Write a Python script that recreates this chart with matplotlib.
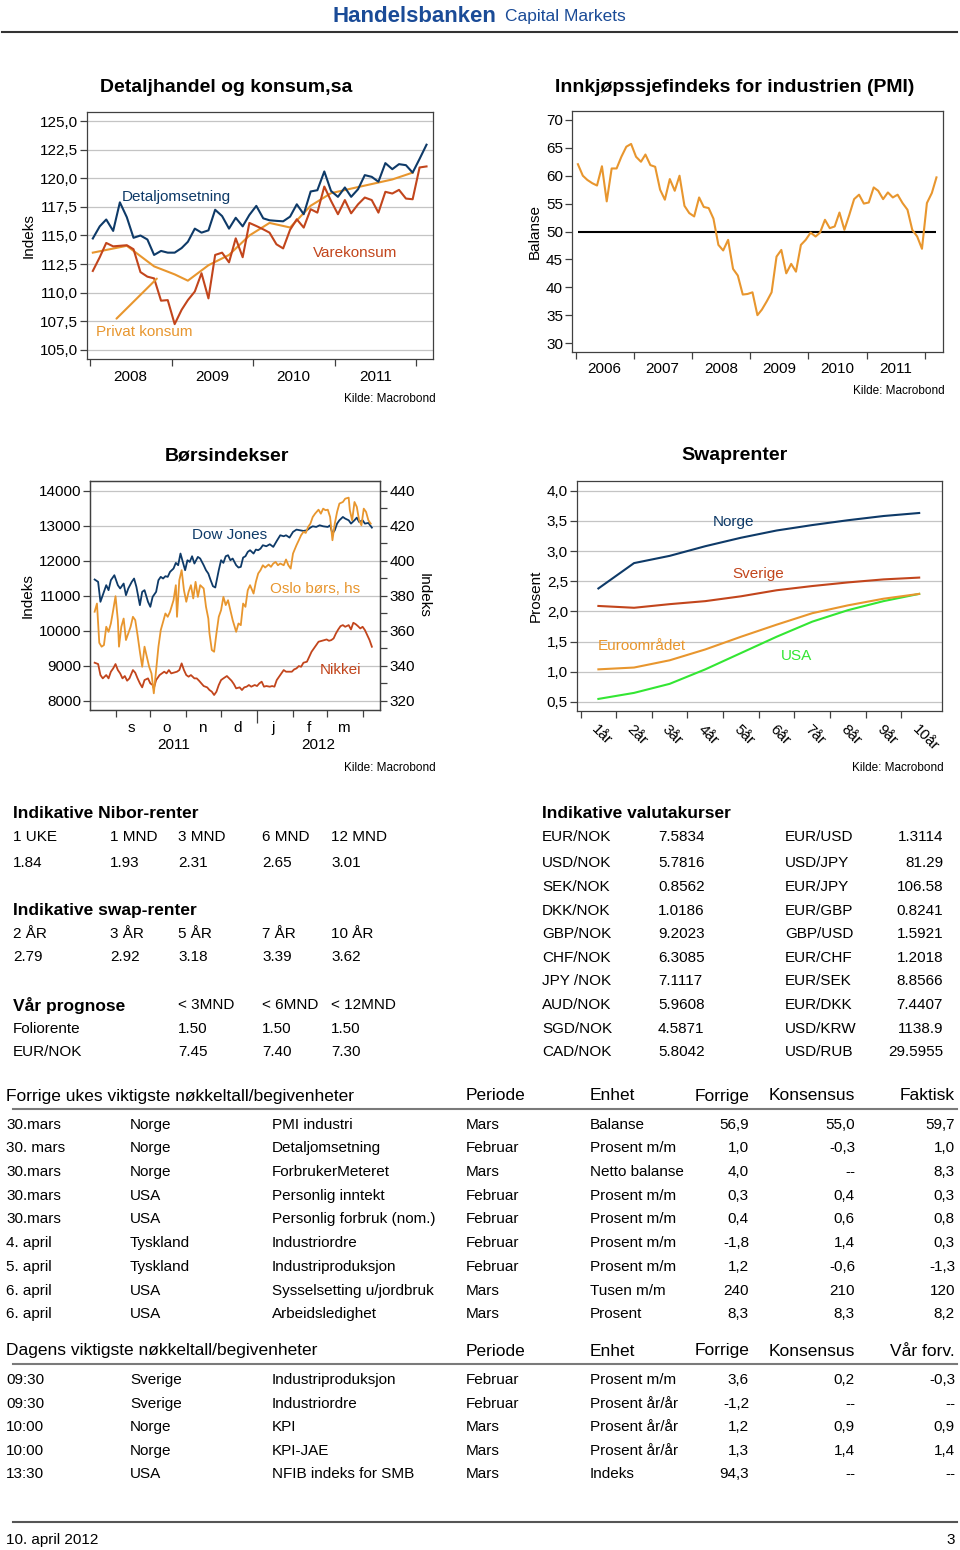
import numpy as np
import pandas as pd
import matplotlib
matplotlib.use('Agg')
import matplotlib.pyplot as plt
from matplotlib.lines import Line2D
from matplotlib.ticker import FuncFormatter

plt.rcParams['font.family'] = ['Liberation Sans', 'DejaVu Sans']

# ---------------- DATA ----------------
# Chart 1: Detaljhandel og konsum (monthly Jan 2008 - Feb 2012)
detalj = [114.74, 115.8, 116.4, 115.4, 117.9, 116.6, 114.8, 115.0, 114.65, 113.3,
          113.65, 113.5, 113.5, 113.9, 114.45, 115.6, 115.25, 115.45, 117.25, 116.7,
          115.6, 116.55, 115.8, 116.8, 117.59, 116.5, 116.33, 116.28, 116.24, 116.65,
          117.73, 116.86, 118.85, 118.96, 120.6, 118.9, 118.38, 119.2, 118.38, 119.05,
          120.28, 120.13, 119.7, 121.33, 120.8, 121.24, 121.15, 120.5, 121.7, 122.94]
vare = [111.9, 113.1, 114.35, 114.05, 114.1, 114.15, 113.8, 111.8, 111.4, 111.25,
        109.3, 109.35, 107.25, 108.5, 109.35, 110.1, 111.7, 109.5, 113.3, 113.5,
        112.65, 114.75, 113.1, 116.1, 115.83, 115.54, 115.25, 114.23, 113.87, 115.5,
        116.42, 115.69, 117.3, 117.0, 119.28, 118.03, 116.86, 118.1, 116.94, 117.73,
        118.32, 118.1, 117.0, 118.82, 118.67, 118.99, 118.23, 118.17, 120.95, 121.04]
privat_month = [0, 5, 9, 12, 14, 17, 20, 23, 26, 29, 32, 35, 38, 41, 44, 47]
privat = [113.5, 114.1, 112.3, 111.6, 111.05, 112.4, 113.3, 115.0, 116.1, 115.7,
          117.6, 118.7, 119.1, 119.5, 119.9, 120.5]

# Chart 2: PMI (monthly Jan 2006 - Mar 2012)
pmi = [62.06, 60.0, 59.25, 58.66, 58.24, 61.7, 55.4, 61.3, 61.3, 63.4,
       65.2, 65.7, 63.4, 62.5, 63.8, 61.9, 61.6, 57.5, 55.7, 59.4,
       57.3, 60.0, 54.6, 53.3, 52.7, 56.1, 54.4, 54.2, 52.3, 47.6,
       46.6, 48.5, 43.3, 42.1, 38.7, 38.8, 39.1, 35.0, 36.0, 37.5,
       39.1, 45.5, 46.7, 42.5, 44.2, 42.8, 47.6, 48.5, 49.8, 49.1,
       49.8, 52.1, 50.6, 50.9, 53.4, 50.3, 53.0, 55.8, 56.6, 55.0,
       55.2, 57.9, 57.3, 55.8, 57.0, 56.1, 56.6, 55.1, 53.9, 50.3,
       49.1, 46.9, 55.1, 56.9, 59.7]
pmi_threshold = 50

# Chart 3: Børsindekser (days after 2011-08-01)
dow_day = [13, 16, 18, 20, 23, 25, 27, 30, 33, 35,
           38, 40, 42, 45, 47, 49, 52, 54, 56, 59,
           61, 63, 66, 68, 70, 72, 74, 76, 78, 81,
           83, 85, 87, 89, 91, 93, 95, 97, 99, 102,
           104, 107, 109, 111, 113, 115, 117, 120, 122, 124,
           126, 128, 130, 132, 135, 137, 139, 141, 143, 145,
           147, 150, 152, 154, 156, 158, 161, 164, 167, 170,
           173, 176, 178, 181, 184, 187, 190, 193, 196, 199,
           201, 204, 207, 210, 214, 216, 218, 220, 222, 224,
           227, 229, 232, 234, 237, 239, 241, 244, 246, 249,
           252]
dow = [11467, 11400, 10829, 11019, 11305, 11162, 11448, 11590, 11305, 11210,
       11352, 11019, 11210, 11400, 11495, 11257, 10733, 11114, 11162, 10829,
       10686, 10971, 11114, 11448, 11543, 11495, 11562, 11543, 11686, 11781,
       11943, 11876, 12210, 11971, 11733, 12019, 11971, 12133, 11924, 12114,
       12067, 11876, 11733, 11638, 11448, 11276, 11238, 11733, 12019, 11943,
       12133, 12162, 12019, 12067, 11876, 11810, 11829, 12095, 12133, 12257,
       12305, 12210, 12324, 12305, 12352, 12448, 12419, 12476, 12400, 12571,
       12733, 12705, 12733, 12667, 12829, 12895, 12876, 12857, 12876, 12952,
       12990, 12971, 13019, 12990, 12971, 13019, 12781, 12876, 13067, 13162,
       13257, 13210, 13162, 13067, 13162, 13238, 13114, 13162, 13067, 13086,
       12952]
oslo_day = [13, 15, 17, 19, 21, 23, 25, 27, 29, 31,
            33, 34, 36, 38, 40, 42, 44, 46, 48, 50,
            52, 54, 56, 58, 60, 62, 64, 66, 68, 70,
            72, 74, 76, 78, 81, 83, 84, 86, 88, 90,
            92, 94, 96, 98, 100, 102, 104, 107, 109, 111,
            112, 114, 116, 118, 120, 122, 124, 126, 128, 130,
            132, 135, 137, 139, 141, 143, 145, 147, 150, 152,
            154, 156, 158, 160, 163, 165, 167, 169, 171, 173,
            176, 178, 180, 182, 184, 187, 189, 191, 193, 195,
            197, 199, 201, 203, 206, 208, 210, 212, 214, 216,
            218, 220, 222, 224, 227, 229, 232, 233, 235, 237,
            239, 241, 243, 245, 247, 249, 251]
oslo = [370.9, 375.6, 353.1, 350.9, 351.8, 362.3, 359.4, 364.2, 371.8, 379.8,
        366.1, 350.9, 362.3, 367.0, 354.7, 358.5, 362.3, 368.0, 366.1, 357.5,
        348.0, 339.4, 350.9, 345.1, 339.4, 335.6, 324.2, 337.5, 350.9, 360.4,
        365.1, 369.9, 368.0, 370.9, 377.5, 386.1, 368.0, 389.0, 394.7, 383.2,
        376.6, 382.3, 386.1, 378.5, 388.0, 379.4, 386.1, 384.2, 373.7, 367.0,
        358.5, 349.0, 348.0, 358.5, 368.0, 371.8, 379.4, 374.7, 377.5, 371.8,
        366.1, 359.4, 364.2, 363.2, 375.6, 373.7, 383.2, 386.1, 381.3, 388.0,
        392.8, 394.7, 397.5, 396.2, 397.9, 396.6, 398.5, 399.4, 397.5, 398.5,
        397.5, 400.8, 397.5, 395.6, 404.2, 409.0, 411.8, 414.7, 416.6, 416.0,
        419.4, 421.3, 425.1, 427.0, 429.3, 427.0, 429.9, 429.0, 429.3, 425.1,
        411.8, 421.3, 428.0, 432.8, 433.7, 435.6, 436.2, 429.0, 423.2, 433.7,
        430.9, 423.2, 420.4, 429.9, 428.0, 423.2, 421.3]
nikkei_day = [13, 16, 18, 20, 23, 25, 27, 29, 31, 33,
              35, 37, 39, 41, 43, 46, 48, 50, 52, 54,
              56, 59, 61, 63, 64, 66, 69, 71, 73, 75,
              77, 79, 81, 84, 86, 88, 90, 92, 94, 96,
              99, 101, 103, 105, 107, 110, 112, 114, 116, 118,
              120, 122, 124, 127, 129, 131, 133, 135, 138, 140,
              142, 144, 146, 148, 151, 153, 155, 157, 159, 161,
              164, 166, 168, 170, 172, 174, 176, 178, 181, 183,
              185, 187, 189, 191, 193, 196, 198, 200, 202, 204,
              206, 209, 211, 213, 215, 217, 219, 221, 223, 225,
              227, 229, 232, 234, 236, 238, 240, 242, 244, 246,
              248, 250, 252]
nikkei = [9086, 9048, 8733, 8638, 8733, 8638, 8829, 8924, 9048, 8876,
          8781, 8638, 8705, 8571, 8638, 8876, 8800, 8638, 8495, 8381,
          8590, 8638, 8495, 8448, 8352, 8590, 8733, 8781, 8829, 8781,
          8876, 8781, 8800, 8829, 8876, 9067, 8876, 8733, 8686, 8733,
          8638, 8638, 8571, 8495, 8419, 8381, 8305, 8257, 8162, 8257,
          8448, 8590, 8638, 8705, 8638, 8571, 8476, 8352, 8381, 8305,
          8381, 8400, 8448, 8400, 8448, 8419, 8495, 8543, 8400, 8419,
          8400, 8419, 8400, 8590, 8686, 8781, 8876, 8829, 8829, 8829,
          8895, 8924, 8990, 8971, 9086, 9114, 9257, 9400, 9495, 9590,
          9686, 9714, 9733, 9752, 9714, 9733, 9781, 9924, 10038, 10133,
          10162, 10114, 10162, 10038, 10229, 10190, 10133, 10067, 10114, 10019,
          9876, 9733, 9543]
month_letters = ['s', 'o', 'n', 'd', 'j', 'f', 'm']

# Chart 4: Swaprenter
swap_labels = ['1år', '2år', '3år', '4år', '5år', '6år', '7år', '8år', '9år', '10år']
swap_norge = [2.38, 2.80, 2.92, 3.08, 3.22, 3.34, 3.43, 3.51, 3.58, 3.63]
swap_sverige = [2.09, 2.06, 2.12, 2.17, 2.25, 2.35, 2.42, 2.48, 2.53, 2.56]
swap_euro = [1.04, 1.07, 1.19, 1.37, 1.58, 1.78, 1.97, 2.10, 2.21, 2.29]
swap_usa = [0.55, 0.65, 0.80, 1.04, 1.31, 1.58, 1.83, 2.02, 2.17, 2.29]

# Tables
nibor_head = ['1 UKE', '1 MND', '3 MND', '6 MND', '12 MND']
nibor_vals = ['1.84', '1.93', '2.31', '2.65', '3.01']
swap_head = ['2 ÅR', '3 ÅR', '5 ÅR', '7 ÅR', '10 ÅR']
swap_vals = ['2.79', '2.92', '3.18', '3.39', '3.62']
prog_head = ['< 3MND', '< 6MND', '< 12MND']
prog_folio = ['1.50', '1.50', '1.50']
prog_eurnok = ['7.45', '7.40', '7.30']
fx_left_names = ['EUR/NOK', 'USD/NOK', 'SEK/NOK', 'DKK/NOK', 'GBP/NOK', 'CHF/NOK',
                 'JPY /NOK', 'AUD/NOK', 'SGD/NOK', 'CAD/NOK']
fx_left_vals = ['7.5834', '5.7816', '0.8562', '1.0186', '9.2023', '6.3085',
                '7.1117', '5.9608', '4.5871', '5.8042']
fx_right_names = ['EUR/USD', 'USD/JPY', 'EUR/JPY', 'EUR/GBP', 'GBP/USD', 'EUR/CHF',
                  'EUR/SEK', 'EUR/DKK', 'USD/KRW', 'USD/RUB']
fx_right_vals = ['1.3114', '81.29', '106.58', '0.8241', '1.5921', '1.2018',
                 '8.8566', '7.4407', '1138.9', '29.5955']

prev_date = ['30.mars', '30. mars', '30.mars', '30.mars', '30.mars', '4. april',
             '5. april', '6. april', '6. april']
prev_country = ['Norge', 'Norge', 'Norge', 'USA', 'USA', 'Tyskland', 'Tyskland', 'USA', 'USA']
prev_event = ['PMI industri', 'Detaljomsetning', 'ForbrukerMeteret', 'Personlig inntekt',
              'Personlig forbruk (nom.)', 'Industriordre', 'Industriproduksjon',
              'Sysselsetting u/jordbruk', 'Arbeidsledighet']
prev_period = ['Mars', 'Februar', 'Mars', 'Februar', 'Februar', 'Februar', 'Februar', 'Mars', 'Mars']
prev_unit = ['Balanse', 'Prosent m/m', 'Netto balanse', 'Prosent m/m', 'Prosent m/m',
             'Prosent m/m', 'Prosent m/m', 'Tusen m/m', 'Prosent']
prev_forrige = ['56,9', '1,0', '4,0', '0,3', '0,4', '-1,8', '1,2', '240', '8,3']
prev_kons = ['55,0', '-0,3', '--', '0,4', '0,6', '1,4', '-0,6', '210', '8,3']
prev_faktisk = ['59,7', '1,0', '8,3', '0,3', '0,8', '0,3', '-1,3', '120', '8,2']

today_time = ['09:30', '09:30', '10:00', '10:00', '13:30']
today_country = ['Sverige', 'Sverige', 'Norge', 'Norge', 'USA']
today_event = ['Industriproduksjon', 'Industriordre', 'KPI', 'KPI-JAE', 'NFIB indeks for SMB']
today_period = ['Februar', 'Februar', 'Mars', 'Mars', 'Mars']
today_unit = ['Prosent m/m', 'Prosent år/år', 'Prosent år/år', 'Prosent år/år', 'Indeks']
today_forrige = ['3,6', '-1,2', '1,2', '1,3', '94,3']
today_kons = ['0,2', '--', '0,9', '1,4', '--']
today_var = ['-0,3', '--', '0,9', '1,4', '--']

# ---------------- STYLE ----------------
NAVY = '#0E3A68'
RED = '#C2451C'
ORANGE = '#E8962E'
GREEN = '#33E633'
BLUE = '#1A4B97'
GRID = '#C4C4C4'
SPINE = '#404040'

W, H = 960, 1550
fig = plt.figure(figsize=(W / 100, H / 100), dpi=100)


def fx(x):
    return x / W


def fy(y):
    return 1 - y / H


def ax_at(l, t, r, b):
    return fig.add_axes([fx(l), fy(b), (r - l) / W, (b - t) / H])


def T(x, y, s, **kw):
    kw.setdefault('va', 'center')
    kw.setdefault('fontsize', 11)
    fig.text(fx(x), fy(y), s, **kw)


def hline(y, x0, x1, color, lw):
    fig.add_artist(Line2D([fx(x0), fx(x1)], [fy(y), fy(y)], color=color, lw=lw,
                          transform=fig.transFigure))


def style(ax):
    for s in ax.spines.values():
        s.set_color(SPINE)
        s.set_linewidth(0.9)
    ax.tick_params(axis='both', which='both', direction='out', color=SPINE,
                   labelsize=11, width=0.9)
    ax.tick_params(axis='y', length=5, pad=1.5)


comma1 = FuncFormatter(lambda v, p: f'{v:.1f}'.replace('.', ','))

# ---------------- HEADER ----------------
T(333, 21.5, 'Handelsbanken', fontsize=16, fontweight='bold', color=BLUE, ha='left', va='baseline')
T(505, 21.5, 'Capital Markets', fontsize=12.5, color=BLUE, ha='left', va='baseline')
hline(32, 2, 957, '#333333', 1.5)

# ---------------- CHART 1 ----------------
ax1 = ax_at(87, 112, 433, 359)
style(ax1)
d1 = pd.date_range('2008-01-01', periods=len(detalj), freq='MS') + pd.Timedelta(days=14)
ax1.plot(d1[privat_month], privat, color=ORANGE, lw=1.5)
ax1.plot(d1, vare, color=RED, lw=1.5)
ax1.plot(d1, detalj, color=NAVY, lw=1.5)
ax1.annotate('', xy=(d1[0] + pd.Timedelta(days=295), 111.4),
             xytext=(d1[0] + pd.Timedelta(days=97), 107.56),
             arrowprops=dict(arrowstyle='-', color=ORANGE, lw=1.5))
ax1.set_ylim(104.2, 125.8)
ax1.set_yticks(np.arange(105, 125.01, 2.5))
ax1.yaxis.set_major_formatter(comma1)
ax1.yaxis.grid(True, color=GRID, lw=0.9)
ax1.set_axisbelow(True)
ax1.set_xlim(pd.Timestamp('2007-12-20'), pd.Timestamp('2012-03-15'))
ax1.set_xticks(pd.to_datetime([f'{y}-01-01' for y in range(2008, 2013)]))
ax1.set_xticklabels([])
ax1.set_xticks(pd.to_datetime([f'{y}-07-01' for y in range(2008, 2012)]),
               [str(y) for y in range(2008, 2012)], minor=True)
ax1.tick_params(axis='x', which='major', length=5)
ax1.tick_params(axis='x', which='minor', length=0, pad=8)
ax1.text(-0.17, 0.5, 'Indeks', rotation=90, ha='center', va='center', fontsize=11,
         transform=ax1.transAxes)
ax1.text(0.101, 0.656, 'Detaljomsetning', color=NAVY, fontsize=11, va='center',
         transform=ax1.transAxes)
ax1.text(0.653, 0.429, 'Varekonsum', color=RED, fontsize=11, va='center',
         transform=ax1.transAxes)
ax1.text(0.026, 0.109, 'Privat konsum', color=ORANGE, fontsize=11, va='center',
         transform=ax1.transAxes)
T(226.5, 87, 'Detaljhandel og konsum,sa', fontsize=14, fontweight='bold', ha='center')
T(436, 399, 'Kilde: Macrobond', fontsize=8.5, ha='right')

# ---------------- CHART 2 ----------------
ax2 = ax_at(572, 111, 943, 352)
style(ax2)
d2 = pd.date_range('2006-01-01', periods=len(pmi), freq='MS') + pd.Timedelta(days=14)
ax2.hlines(pmi_threshold, d2[0], d2[-1], color='black', lw=1.5)
ax2.plot(d2, pmi, color=ORANGE, lw=1.5)
ax2.set_ylim(28.4, 71.6)
ax2.set_yticks(np.arange(30, 71, 5))
ax2.set_xlim(pd.Timestamp('2005-12-09'), pd.Timestamp('2012-04-25'))
ax2.set_xticks(pd.to_datetime([f'{y}-01-01' for y in range(2006, 2013)]))
ax2.set_xticklabels([])
ax2.set_xticks(pd.to_datetime([f'{y}-07-01' for y in range(2006, 2012)]),
               [str(y) for y in range(2006, 2012)], minor=True)
ax2.tick_params(axis='x', which='major', length=5)
ax2.tick_params(axis='x', which='minor', length=0, pad=7)
ax2.text(-0.0997, 0.5, 'Balanse', rotation=90, ha='center', va='center', fontsize=11,
         transform=ax2.transAxes)
T(735, 87, 'Innkjøpssjefindeks for industrien (PMI)', fontsize=14, fontweight='bold', ha='center')
T(945, 391, 'Kilde: Macrobond', fontsize=8.5, ha='right')

# ---------------- CHART 3 ----------------
base = np.datetime64('2011-08-01')
ax3 = ax_at(90, 481, 380, 710)
style(ax3)
ax3r = ax3.twinx()
style(ax3r)
ax3.plot(base + np.array(nikkei_day).astype('timedelta64[D]'), nikkei, color=RED, lw=1.3)
ax3.plot(base + np.array(dow_day).astype('timedelta64[D]'), dow, color=NAVY, lw=1.3)
ax3r.plot(base + np.array(oslo_day).astype('timedelta64[D]'), oslo, color=ORANGE, lw=1.3)
ax3.set_ylim(7733, 14286)
ax3r.set_ylim(314.66, 445.72)
ax3.set_yticks(np.arange(8000, 14001, 1000))
ax3r.set_yticks(np.arange(320, 441, 20))
ax3r.set_yticks(np.arange(330, 441, 20), minor=True)
ax3r.tick_params(axis='y', which='both', length=5, pad=2)
ax3.yaxis.grid(True, color=GRID, lw=0.9)
ax3.set_axisbelow(True)
xl0, xl1 = pd.Timestamp('2011-08-10'), pd.Timestamp('2012-04-16')
ax3.set_xlim(xl0, xl1)
month_starts = pd.date_range('2011-09-01', '2012-04-01', freq='MS')
ax3.set_xticks(month_starts)
ax3.set_xticklabels([])
ax3.set_xticks(month_starts[:len(month_letters)] + pd.Timedelta(days=14), month_letters, minor=True)
ax3.tick_params(axis='x', which='major', length=5)
ax3.tick_params(axis='x', which='minor', length=0, pad=8)
for tk, ms in zip(ax3.xaxis.get_major_ticks(), month_starts):
    if ms.month == 1:
        tk.tick1line.set_markersize(9)
for yr in (2011, 2012):
    a = max(xl0, pd.Timestamp(f'{yr}-01-01'))
    b = min(xl1, pd.Timestamp(f'{yr + 1}-01-01'))
    ax3.text(a + (b - a) / 2, -0.153, str(yr), ha='center', va='center', fontsize=11,
             transform=ax3.get_xaxis_transform())
ax3.text(-0.214, 0.5, 'Indeks', rotation=90, ha='center', va='center', fontsize=11,
         transform=ax3.transAxes)
ax3.text(1.152, 0.5, 'Indeks', rotation=-90, ha='center', va='center', fontsize=11,
         transform=ax3.transAxes)
ax3.text(0.352, 0.764, 'Dow Jones', color=NAVY, fontsize=11, va='center', transform=ax3.transAxes)
ax3.text(0.621, 0.528, 'Oslo børs, hs', color=ORANGE, fontsize=11, va='center', transform=ax3.transAxes)
ax3.text(0.793, 0.175, 'Nikkei', color=RED, fontsize=11, va='center', transform=ax3.transAxes)
T(226.5, 456, 'Børsindekser', fontsize=14, fontweight='bold', ha='center')
T(436, 768, 'Kilde: Macrobond', fontsize=8.5, ha='right')

# ---------------- CHART 4 ----------------
ax4 = ax_at(577, 481, 942, 711)
style(ax4)
cats = np.arange(1, len(swap_labels) + 1)
ax4.plot(cats, swap_usa, color=GREEN, lw=1.5)
ax4.plot(cats, swap_euro, color=ORANGE, lw=1.5)
ax4.plot(cats, swap_sverige, color=RED, lw=1.5)
ax4.plot(cats, swap_norge, color=NAVY, lw=1.5)
ax4.set_ylim(0.35, 4.16)
ax4.set_yticks(np.arange(0.5, 4.01, 0.5))
ax4.yaxis.set_major_formatter(comma1)
ax4.yaxis.grid(True, color=GRID, lw=0.9)
ax4.set_axisbelow(True)
ax4.set_xlim(0.40, 10.64)
ax4.set_xticks(cats - 0.5)
ax4.set_xticklabels([])
ax4.set_xticks(cats, swap_labels, minor=True)
for lbl in ax4.get_xticklabels(minor=True):
    lbl.set(rotation=-45, ha='left', va='top', rotation_mode='anchor')
ax4.tick_params(axis='x', which='major', length=5)
ax4.tick_params(axis='x', which='minor', length=0, pad=8)
ax4.text(-0.114, 0.5, 'Prosent', rotation=90, ha='center', va='center', fontsize=11,
         transform=ax4.transAxes)
ax4.text(0.372, 0.823, 'Norge', color=NAVY, fontsize=11, va='center', transform=ax4.transAxes)
ax4.text(0.427, 0.596, 'Sverige', color=RED, fontsize=11, va='center', transform=ax4.transAxes)
ax4.text(0.056, 0.283, 'Euroområdet', color=ORANGE, fontsize=11, va='center', transform=ax4.transAxes)
ax4.text(0.558, 0.239, 'USA', color=GREEN, fontsize=11, va='center', transform=ax4.transAxes)
T(734, 456, 'Swaprenter', fontsize=14, fontweight='bold', ha='center')
T(944, 768, 'Kilde: Macrobond', fontsize=8.5, ha='right')

# ---------------- NIBOR / SWAP / PROGNOSE ----------------
cols5 = [13, 110, 178, 262, 331]
T(13, 814, 'Indikative Nibor-renter', fontsize=12.5, fontweight='bold', ha='left')
for x, h, v in zip(cols5, nibor_head, nibor_vals):
    T(x, 837, h, ha='left')
    T(x, 863, v, ha='left')
T(13, 911, 'Indikative swap-renter', fontsize=12.5, fontweight='bold', ha='left')
for x, h, v in zip(cols5, swap_head, swap_vals):
    T(x, 934, h, ha='left')
    T(x, 957, v, ha='left')
T(13, 1005, 'Vår prognose', fontsize=12.5, fontweight='bold', ha='left')
T(13, 1029, 'Foliorente', ha='left')
T(13, 1052, 'EUR/NOK', ha='left')
for x, h, a, b in zip(cols5[2:], prog_head, prog_folio, prog_eurnok):
    T(x, 1005, h, ha='left')
    T(x, 1029, a, ha='left')
    T(x, 1052, b, ha='left')

# ---------------- VALUTA ----------------
T(542, 814, 'Indikative valutakurser', fontsize=12.5, fontweight='bold', ha='left')
fx_rows = [837, 863, 887, 911, 934, 958, 981, 1005, 1029, 1052]
for y, n1, v1, n2, v2 in zip(fx_rows, fx_left_names, fx_left_vals, fx_right_names, fx_right_vals):
    T(542, y, n1, ha='left')
    T(658, y, v1, ha='left')
    T(785, y, n2, ha='left')
    T(943, y, v2, ha='right')

# ---------------- EVENT TABLES ----------------
col_left = [6, 130, 272, 466, 590]
col_right = [749, 855, 955]


def event_table(y_head, title, last_head, rows_y, cols_left, cols_right):
    T(6, y_head, title, fontsize=12.5, ha='left')
    T(466, y_head, 'Periode', fontsize=12.5, ha='left')
    T(590, y_head, 'Enhet', fontsize=12.5, ha='left')
    for x, h in zip(col_right, ['Forrige', 'Konsensus', last_head]):
        T(x, y_head, h, fontsize=12.5, ha='right')
    hline(y_head + 13, 13, 957, '#7A7A7A', 1.5)
    for i, y in enumerate(rows_y):
        for x, col in zip(col_left, cols_left):
            T(x, y, col[i], ha='left')
        for x, col in zip(col_right, cols_right):
            T(x, y, col[i], ha='right')


event_table(1096, 'Forrige ukes viktigste nøkkeltall/begivenheter', 'Faktisk',
            [1125, 1148, 1172, 1196, 1219, 1243, 1267, 1291, 1314],
            [prev_date, prev_country, prev_event, prev_period, prev_unit],
            [prev_forrige, prev_kons, prev_faktisk])
event_table(1351, 'Dagens viktigste nøkkeltall/begivenheter', 'Vår forv.',
            [1380, 1404, 1427, 1451, 1474],
            [today_time, today_country, today_event, today_period, today_unit],
            [today_forrige, today_kons, today_var])

hline(1522, 13, 957, '#555555', 1.5)
T(6, 1540, '10. april 2012', ha='left')
T(955, 1540, '3', ha='right')

fig.savefig('out.png', dpi=100)
